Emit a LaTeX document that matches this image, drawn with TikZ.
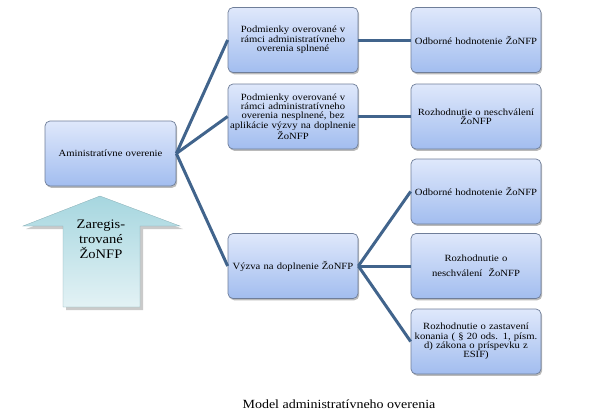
\documentclass[tikz,border=0pt]{standalone}
\usepackage{fontspec}
\setmainfont{Liberation Serif}[FakeStretch=1.12]
\usetikzlibrary{shadows}
\definecolor{boxtop}{HTML}{DFE8FB}
\definecolor{boxbot}{HTML}{A2BDEF}
\definecolor{boxline}{HTML}{6F7E99}
\definecolor{conn}{HTML}{41648C}
\definecolor{arrtop}{HTML}{A6D6DF}
\definecolor{arrbot}{HTML}{E3F2F5}
\tikzset{
  bx/.style={rectangle, rounded corners=5pt, draw=boxline, line width=0.7pt,
    top color=boxtop, bottom color=boxbot, align=center,
    minimum width=130pt, minimum height=65pt, text width=126pt, inner sep=2pt,
    font=\fontsize{9.5}{9.4}\selectfont,
    drop shadow={shadow xshift=1.2pt, shadow yshift=-1.8pt, opacity=0.45, fill=black!60}},
  cn/.style={draw=conn, line width=3pt},
}
\begin{document}
\begin{tikzpicture}[x=1pt,y=-1pt]
\useasboundingbox (0,0) rectangle (592,413);
% arrow
\fill[black!35, opacity=0.6] (66,310) -- (66,229) -- (26,229) -- (103,199) -- (183,229) -- (143,229) -- (143,310) -- cycle;
\shade[top color=arrtop, bottom color=arrbot, draw=arrtop!80!black, line width=0.3pt]
  (63,307) -- (63,226) -- (23,226) -- (100,196) -- (180,226) -- (140,226) -- (140,307) -- cycle;
\node[align=center, font=\fontsize{13}{15}\selectfont] (reg) at (101,239) {Zaregis-\\trované\\ŽoNFP};
% boxes
\node[bx, minimum width=131pt] (adm) at (110.5,153.5) {Aministratívne overenie};
\node[bx] (a1) at (293,40) {Podmienky overované v\\rámci administratívneho\\overenia splnené};
\node[bx] (a2) at (293,116.5) {Podmienky overované v\\rámci administratívneho\\overenia nesplnené, bez\\aplikácie výzvy na doplnenie\\ŽoNFP};
\node[bx] (vy) at (293,266) {Výzva na doplnenie ŽoNFP};
\node[bx] (b1) at (476,40) {Odborné hodnotenie ŽoNFP};
\node[bx] (b2) at (476,116.5) {Rozhodnutie o neschválení\\ŽoNFP};
\node[bx] (b3) at (476,191.5) {Odborné hodnotenie ŽoNFP};
\node[bx, font=\fontsize{9.5}{15}\selectfont] (b4) at (476,266) {Rozhodnutie o\\neschválení~ ŽoNFP};
\node[bx] (b5) at (476,341.5) {Rozhodnutie o zastavení\\konania ( § 20 ods. 1, písm.\\d) zákona o príspevku z\\ESIF)};
% connectors
\draw[cn] (adm.east) -- (a1.west);
\draw[cn] (adm.east) -- (a2.west);
\draw[cn] (adm.east) -- (vy.west);
\draw[cn] (a1.east) -- (b1.west);
\draw[cn] (a2.east) -- (b2.west);
\draw[cn] (vy.east) -- (b3.west);
\draw[cn] (vy.east) -- (b4.west);
\draw[cn] (vy.east) -- (b5.west);
% caption
\node[font=\fontsize{12.5}{14}\selectfont] (cap) at (339,404) {Model administratívneho overenia};
\end{tikzpicture}
\end{document}
